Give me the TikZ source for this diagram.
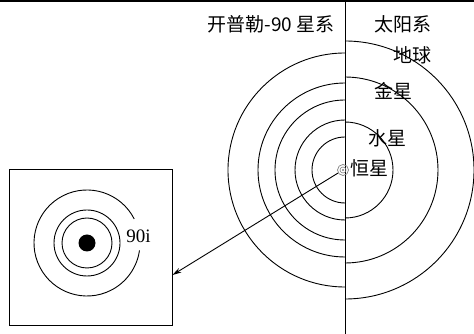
\documentclass[tikz,border=0pt]{standalone}
\usepackage{fontspec}
\setmainfont{Liberation Serif}
\newfontfamily\cjk{Noto Sans CJK SC}
\usetikzlibrary{arrows.meta}
\begin{document}
\begin{tikzpicture}[x=1pt, y=1pt, line width=0.9pt,
    hanzi/.style={inner sep=0, font=\cjk\fontsize{19}{19}\selectfont}]
      \useasboundingbox (0, 0) rectangle (474, 334);
      \draw [line width=2.5pt] (0, 333) -- (474, 333);
      \draw (345, 332) -- (345, 0);
      \foreach \r in {33, 50, 70, 87, 117}
        \draw (345, 164 + \r) arc (90:270:\r);
      \foreach \r in {48, 93, 129}
        \draw (345, 164 + \r) arc (90:-90:\r);
      \node [circle, draw=gray, line width=0.7pt, minimum size=11pt, inner sep=0] (star) at (343, 164) {};
      \draw [gray, line width=0.6pt] (star) circle [radius=3];
      \fill [gray] (star) circle [radius=1.2];
      \node [hanzi] (kepler) at (271, 310) {开普勒-90 星系};
      \node [hanzi] (solar) at (403, 310) {太阳系};
      \node [hanzi] (earth) at (412, 279) {地球};
      \node [hanzi] (venus) at (393, 243) {金星};
      \node [hanzi] (mercury) at (387, 196) {水星};
      \node [hanzi] (sun) at (369, 166) {恒星};
      \node [draw, minimum width=163pt, minimum height=156pt, inner sep=0] (box) at (90.5, 87) {};
      \coordinate (mid) at (87, 91);
      \fill (mid) circle [radius=8.5];
      \draw (mid) circle [radius=25];
      \draw (mid) circle [radius=33];
      \draw ([shift={(27:53)}] mid) arc (27:352:53);
      \node [inner sep=0, font=\fontsize{19}{19}\selectfont] (kep) at (138.5, 98) {90i};
      \coordinate (hit) at (box.east |- 0, 59);
      \draw [-{Stealth[length=9pt, width=5pt]}] (star) -- (hit);
    \end{tikzpicture}
\end{document}
